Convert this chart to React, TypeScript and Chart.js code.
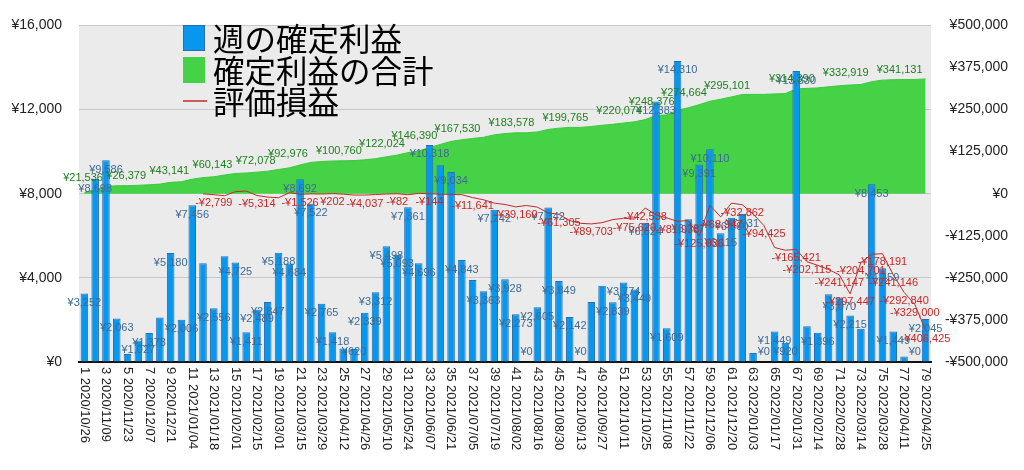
import React, { useEffect, useRef } from "react";
import { Chart, registerables } from "chart.js";

Chart.register(...registerables);

const weekDates: string[] = [
  "2020/10/26", "2020/11/02", "2020/11/09", "2020/11/16", "2020/11/23", "2020/11/30", "2020/12/07", "2020/12/14", "2020/12/21", "2020/12/28",
  "2021/01/04", "2021/01/11", "2021/01/18", "2021/01/25", "2021/02/01", "2021/02/08", "2021/02/15", "2021/02/22", "2021/03/01", "2021/03/08",
  "2021/03/15", "2021/03/22", "2021/03/29", "2021/04/05", "2021/04/12", "2021/04/19", "2021/04/26", "2021/05/03", "2021/05/10", "2021/05/17",
  "2021/05/24", "2021/05/31", "2021/06/07", "2021/06/14", "2021/06/21", "2021/06/28", "2021/07/05", "2021/07/12", "2021/07/19", "2021/07/26",
  "2021/08/02", "2021/08/09", "2021/08/16", "2021/08/23", "2021/08/30", "2021/09/06", "2021/09/13", "2021/09/20", "2021/09/27", "2021/10/04",
  "2021/10/11", "2021/10/18", "2021/10/25", "2021/11/01", "2021/11/08", "2021/11/15", "2021/11/22", "2021/11/29", "2021/12/06", "2021/12/13",
  "2021/12/20", "2021/12/27", "2022/01/03", "2022/01/10", "2022/01/17", "2022/01/24", "2022/01/31", "2022/02/07", "2022/02/14", "2022/02/21",
  "2022/02/28", "2022/03/07", "2022/03/14", "2022/03/21", "2022/03/28", "2022/04/04", "2022/04/11", "2022/04/18", "2022/04/25",
];

// 週の確定利益 (left axis)
const weeklyProfit: number[] = [
  3252, 8698, 9586, 2063, 375, 1027, 1378, 2120, 5180, 2006,
  7456, 4690, 2556, 5031, 4725, 1411, 2489, 2847, 5188, 4684,
  8692, 7522, 2765, 1418, 642, 620, 2339, 3312, 5498, 5093,
  7361, 4696, 10318, 9352, 9034, 4843, 3900, 3363, 7242, 3928,
  2273, 0, 2605, 7342, 3849, 2142, 0, 2854, 3623, 2839,
  3774, 3449, 6624, 12383, 1609, 14310, 6787, 9391, 10110, 6115,
  6860, 7031, 431, 0, 1449, 920, 13830, 1694, 1396, 3215,
  3070, 2215, 1576, 8453, 4459, 1449, 259, 0, 2045,
];

// 確定利益の合計 (right axis)
const cumulativeProfit: number[] = [
  3252, 11950, 21536, 23599, 23974, 25001, 26379, 28499, 33679, 35685,
  43141, 47831, 50387, 55418, 60143, 61554, 64043, 66890, 72078, 76762,
  85454, 92976, 95741, 97159, 97801, 98421, 100760, 104072, 109570, 114663,
  122024, 126720, 137038, 146390, 155424, 160267, 164167, 167530, 174772, 178700,
  180973, 180973, 183578, 190920, 194769, 196911, 196911, 199765, 203388, 206227,
  210001, 213450, 220074, 232457, 234066, 248376, 255163, 264554, 274664, 280779,
  287639, 294670, 295101, 295101, 296550, 297470, 311300, 312994, 314390, 317605,
  320675, 322890, 324466, 332919, 337378, 338827, 339086, 339086, 341131,
];

// 評価損益 (right axis)
const unrealizedPL: (number | null)[] = [
  null, null, null, null, null, null, null, null, null, null,
  null, -500, -2799, -6000, 6000, 8000, -5314, -10000, -12000, 3000,
  -1526, -500, -1000, 202, -1500, -4000, -4037, -2500, -1000, -82,
  -3000, 1000, -144, -1500, -2000, -3000, -11641, -18000, -28000, -32000,
  -39160, -35000, -40000, -57000, -61305, -80000, -88000, -89703, -86000, -77000,
  -73000, -75620, -42538, -63000, -72000, -81938, -80000, -125036, -35000, -68947,
  -28000, -32862, -60000, -94425, -160000, -168000, -165421, -202115, -213000, -225000,
  -241147, -297447, -204701, -180000, -178191, -241146, -292840, -329000, -406425,
];

// weeks (1-based) whose value labels are visible
const cumulativeLabelWeeks: number[] = [3, 7, 11, 15, 19, 22, 27, 31, 34, 38, 43, 48, 53, 56, 59, 63, 69, 74, 79];
const unrealizedLabelWeeks: number[] = [13, 17, 21, 24, 27, 30, 33, 37, 41, 45, 48, 52, 53, 56, 58, 60, 62, 64, 67, 68, 71, 72, 73, 75, 76, 77, 78, 79];
const hiddenBarLabelWeeks: number[] = [5, 8, 12, 14, 25, 34, 37, 48, 49, 63, 68, 70, 73, 77];

const leftTicks: number[] = [0, 4000, 8000, 12000, 16000];
const rightTicks: number[] = [-500000, -375000, -250000, -125000, 0, 125000, 250000, 375000, 500000];

const legendItems: string[] = ["週の確定利益", "確定利益の合計", "評価損益"];

const categoryLabels = weekDates.map((d, i) => `${i + 1} ${d}`);

const FONT = '"Liberation Sans", Arial, Helvetica, sans-serif';
const CJK = '"Noto Sans CJK JP", "Noto Sans CJK SC", sans-serif';
const BLUE = "#0897ef";
const BLUE_BORDER = "#2a6db0";
const GREEN = "#46d246";
const RED = "#c62828";

const yen = (v: number) => (v < 0 ? "-" : "") + "¥" + Math.abs(v).toLocaleString("en-US");

export default function App() {
  const ref = useRef<HTMLCanvasElement | null>(null);

  useEffect(() => {
    document.body.style.margin = "0";
    const canvas = ref.current;
    if (!canvas) return;

    const bgPlugin = {
      id: "bg",
      beforeDraw(chart: any) {
        const { ctx, chartArea: a } = chart;
        ctx.save();
        ctx.fillStyle = "#ffffff";
        ctx.fillRect(0, 0, chart.width, chart.height);
        ctx.fillStyle = "#ebebeb";
        ctx.fillRect(a.left, a.top, a.right - a.left, a.bottom - a.top);
        ctx.restore();
      },
    };

    const labelPlugin = {
      id: "valueLabels",
      afterDatasetsDraw(chart: any) {
        const { ctx, chartArea: a } = chart;
        ctx.save();
        ctx.font = `11px ${FONT}`;
        ctx.textBaseline = "middle";
        // bar labels
        const barMeta = chart.getDatasetMeta(1);
        ctx.fillStyle = "#3d6a94";
        ctx.textAlign = "center";
        barMeta.data.forEach((el: any, i: number) => {
          if (hiddenBarLabelWeeks.includes(i + 1)) return;
          const y = Math.min(el.y + 9.5, a.bottom - 10);
          ctx.fillText(yen(weeklyProfit[i]), el.x, y);
        });
        // cumulative labels
        const cumMeta = chart.getDatasetMeta(0);
        ctx.fillStyle = "#1f7f1f";
        ctx.textAlign = "right";
        cumulativeLabelWeeks.forEach((w) => {
          const el = cumMeta.data[w - 1];
          ctx.fillText(yen(cumulativeProfit[w - 1]), el.x - 3, el.y - 8.5);
        });
        // unrealized labels
        const redMeta = chart.getDatasetMeta(2);
        ctx.fillStyle = RED;
        ctx.textAlign = "center";
        unrealizedLabelWeeks.forEach((w) => {
          const el = redMeta.data[w - 1];
          const v = unrealizedPL[w - 1];
          if (v === null) return;
          ctx.fillText(yen(v), el.x, el.y + 8.5);
        });
        ctx.restore();
      },
      afterDraw(chart: any) {
        const { ctx, chartArea: a } = chart;
        const xs = chart.scales.x;
        ctx.save();
        // rotated x labels (every other week)
        ctx.font = `13px ${FONT}`;
        ctx.fillStyle = "#222";
        ctx.textAlign = "left";
        ctx.textBaseline = "middle";
        categoryLabels.forEach((lab, i) => {
          if (i % 2 !== 0) return;
          const x = xs.getPixelForValue(i);
          ctx.save();
          ctx.translate(x, a.bottom + 5);
          ctx.rotate(Math.PI / 2);
          ctx.fillText(lab, 0, 0);
          ctx.restore();
        });
        // legend
        const lx = 183;
        const rows = [38, 70, 101];
        ctx.textAlign = "left";
        ctx.textBaseline = "middle";
        // blue
        ctx.fillStyle = BLUE;
        ctx.fillRect(lx, rows[0] - 13, 22, 26);
        ctx.strokeStyle = BLUE_BORDER;
        ctx.lineWidth = 1;
        ctx.strokeRect(lx + 0.5, rows[0] - 12.5, 21, 25);
        // green
        ctx.fillStyle = GREEN;
        ctx.fillRect(lx, rows[1] - 13, 22, 26);
        // red line
        ctx.strokeStyle = RED;
        ctx.lineWidth = 1.5;
        ctx.beginPath();
        ctx.moveTo(lx, rows[2]);
        ctx.lineTo(lx + 24, rows[2]);
        ctx.stroke();
        ctx.font = `31.5px ${CJK}`;
        ctx.fillStyle = "#000";
        legendItems.forEach((t, i) => ctx.fillText(t, 213, rows[i] + 1));
        ctx.restore();
      },
    };

    const chart = new Chart(canvas, {
      type: "bar",
      data: {
        labels: categoryLabels,
        datasets: [
          {
            type: "line",
            label: legendItems[1],
            data: cumulativeProfit,
            yAxisID: "yR",
            backgroundColor: GREEN,
            borderColor: "#3fc83f",
            borderWidth: 1,
            fill: "origin",
            pointRadius: 0,
            tension: 0,
            order: 3,
          } as any,
          {
            type: "bar",
            label: legendItems[0],
            data: weeklyProfit,
            yAxisID: "yL",
            backgroundColor: BLUE,
            borderColor: BLUE_BORDER,
            borderWidth: 1,
            barPercentage: 0.7,
            categoryPercentage: 1,
            order: 2,
          } as any,
          {
            type: "line",
            label: legendItems[2],
            data: unrealizedPL,
            yAxisID: "yR",
            borderColor: RED,
            borderWidth: 1,
            fill: false,
            pointRadius: 0,
            tension: 0,
            order: 1,
          } as any,
        ],
      },
      options: {
        responsive: false,
        animation: false,
        devicePixelRatio: 1,
        layout: { padding: { top: 21, left: 0, right: 16, bottom: 0 } },
        plugins: { legend: { display: false }, tooltip: { enabled: false } },
        scales: {
          x: {
            type: "category",
            offset: true,
            grid: { display: false },
            border: { display: true, color: "#111", width: 2 },
            ticks: { display: false },
            afterFit: (s: any) => {
              s.height = 108;
            },
          },
          yL: {
            position: "left",
            min: 0,
            max: 16000,
            grid: { color: "#c8c8c8", drawTicks: false },
            border: { display: false },
            ticks: { padding: 17, color: "#222", font: { family: FONT, size: 14 }, callback: (v: any) => yen(Number(v)) },
            afterBuildTicks: (s: any) => {
              s.ticks = leftTicks.map((v) => ({ value: v }));
            },
            afterFit: (s: any) => {
              s.width = 79;
            },
          },
          yR: {
            position: "right",
            min: -500000,
            max: 500000,
            grid: { display: false, drawTicks: false },
            border: { display: false },
            ticks: { padding: 10, crossAlign: "far", color: "#222", font: { family: FONT, size: 14 }, callback: (v: any) => yen(Number(v)) },
            afterBuildTicks: (s: any) => {
              s.ticks = rightTicks.map((v) => ({ value: v }));
            },
            afterFit: (s: any) => {
              s.width = 77;
            },
          },
        } as any,
      },
      plugins: [bgPlugin, labelPlugin],
    });

    return () => chart.destroy();
  }, []);

  return (
    <div style={{ width: 1024, height: 470 }}>
      <canvas ref={ref} width={1024} height={470} style={{ display: "block" }} />
    </div>
  );
}
